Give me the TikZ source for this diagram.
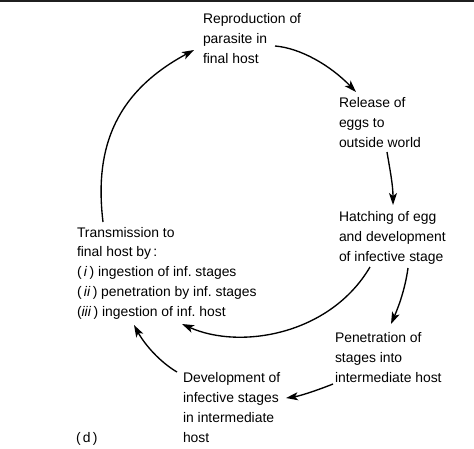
\documentclass[tikz,border=0pt]{standalone}
\usepackage{fontspec}
\setmainfont{Liberation Sans}
\usetikzlibrary{arrows.meta}
\begin{document}
\begin{tikzpicture}[x=1pt,y=-1pt,
  lbl/.style={inner sep=0pt, outer sep=0pt, align=left, anchor=base west,
    font=\fontsize{13.9pt}{19.7pt}\selectfont},
  arr/.style={line width=1.35pt, -{Stealth[length=12pt,width=8pt,inset=3pt]}}]
\useasboundingbox (0,0) rectangle (474,448);
\fill[black!88] (0,0) rectangle (474,2);
\node[lbl] (repro) at (203,63) {Reproduction of\\parasite in\\final host};
\node[lbl] (release) at (339,147) {Release of\\eggs to\\outside world};
\node[lbl] (hatch) at (339,261) {Hatching of egg\\and development\\of infective stage};
\node[lbl] (trans) at (77,316) {Transmission to\\final host by\,:\\(\,\textit{i}\,) ingestion of inf.\ stages\\(\,\textit{ii}\,) penetration by inf.\ stages\\(\textit{iii}\,) ingestion of inf.\ host};
\node[lbl] (pen) at (335,382) {Penetration of\\stages into\\intermediate host};
\node[lbl] (dev) at (183,442) {Development of\\infective stages\\in intermediate\\host};
\node[lbl] (d) at (76,442) {(\,d\,)};
\coordinate (a1s) at (103,222);
\coordinate (a1e) at (194,50);
\coordinate (a2s) at (275,46);
\coordinate (a2e) at (356,92);
\coordinate (a3s) at (387,152);
\coordinate (a3e) at (393,205);
\coordinate (a4s) at (370,267);
\coordinate (a4e) at (182,324);
\coordinate (a5s) at (408,268);
\coordinate (a5e) at (391,324);
\coordinate (a6s) at (333,384);
\coordinate (a6e) at (286,398);
\coordinate (a7s) at (177,372);
\coordinate (a7e) at (134,325);
\draw[arr] (a1s) .. controls (95,155) and (110,95) .. (a1e);
\draw[arr] (a2s) .. controls (300,48) and (330,65) .. (a2e);
\draw[arr] (a3s) .. controls (390,170) and (393,185) .. (a3e);
\draw[arr] (a4s) .. controls (330,335) and (240,350) .. (a4e);
\draw[arr] (a5s) .. controls (405,290) and (398,308) .. (a5e);
\draw[arr] (a6s) .. controls (318,390) and (300,396) .. (a6e);
\draw[arr] (a7s) .. controls (160,362) and (145,345) .. (a7e);
\end{tikzpicture}
\end{document}
